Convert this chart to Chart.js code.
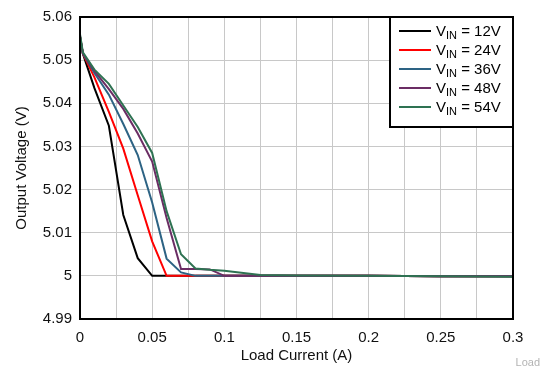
<!DOCTYPE html>
<html>
<head>
    <title>Output Voltage vs Load Current</title>
    <script src="https://cdn.jsdelivr.net/npm/chart.js"></script>
    <style>
        body { margin: 0; background: #fff; }
    </style>
</head>
<body>

    <canvas id="grafico" width="541" height="368"></canvas>

    <script>
        // Datos
        const loadCurrent = [0, 0.002, 0.01, 0.02, 0.03, 0.04, 0.05, 0.06, 0.07, 0.08, 0.09, 0.1, 0.125, 0.15, 0.2, 0.25, 0.3];
        const vin = [12, 24, 36, 48, 54];
        const out12 = [5.0555, 5.0515, 5.0435, 5.0348, 5.0141, 5.0041, 5.0, 5.0, 5.0, 5.0, 5.0, 5.0, 5.0, 5.0, 5.0, 4.9999, 4.9999];
        const out24 = [5.0555, 5.0515, 5.046, 5.038, 5.0295, 5.0187, 5.008, 5.0, 5.0, 5.0, 5.0, 5.0, 5.0, 5.0, 5.0, 4.9999, 4.9999];
        const out36 = [5.0555, 5.0515, 5.047, 5.042, 5.0352, 5.028, 5.017, 5.004, 5.0008, 5.0, 5.0, 5.0, 5.0, 5.0, 5.0, 4.9999, 4.9999];
        const out48 = [5.0555, 5.0515, 5.0475, 5.0433, 5.0387, 5.033, 5.0265, 5.0134, 5.0016, 5.0016, 5.0015, 5.0, 5.0, 5.0, 5.0, 4.9999, 4.9999];
        const out54 = [5.056, 5.0518, 5.0478, 5.0445, 5.0395, 5.0345, 5.0285, 5.015, 5.005, 5.0017, 5.0014, 5.0012, 5.0002, 5.0001, 5.0, 4.9999, 4.9998];
        const colores = ['#000000', '#ff0000', '#2d6384', '#6b2d64', '#2e7252'];

        const series = [out12, out24, out36, out48, out54];
        const fuente = '"Liberation Sans", Arial, Helvetica, sans-serif';

        const datasets = series.map((vals, i) => ({
            label: 'VIN = ' + vin[i] + 'V',
            data: loadCurrent.map((x, j) => ({ x: x, y: vals[j] })),
            borderColor: colores[i],
            backgroundColor: colores[i],
            borderWidth: 2,
            pointRadius: 0,
            tension: 0,
            order: 4 - i
        }));

        // Marco, leyenda con subindice y marca de agua
        const extras = {
            id: 'extras',
            afterDatasetsDraw(chart) {
                const ctx = chart.ctx;
                const a = chart.chartArea;
                ctx.save();
                ctx.strokeStyle = '#000';
                ctx.lineWidth = 2;
                ctx.strokeRect(a.left, a.top, a.right - a.left, a.bottom - a.top);

                // leyenda
                const bx = 390, by = a.top, bw = a.right - bx, bh = 110;
                ctx.fillStyle = '#fff';
                ctx.fillRect(bx, by, bw, bh);
                ctx.strokeRect(bx, by, bw, bh);
                ctx.textBaseline = 'alphabetic';
                vin.forEach((v, i) => {
                    const y = 31 + i * 19;
                    ctx.strokeStyle = colores[i];
                    ctx.lineWidth = 2;
                    ctx.beginPath();
                    ctx.moveTo(399, y);
                    ctx.lineTo(431, y);
                    ctx.stroke();
                    ctx.fillStyle = '#000';
                    let x = 436;
                    ctx.font = '15px ' + fuente;
                    ctx.fillText('V', x, y + 5);
                    x += ctx.measureText('V').width;
                    ctx.font = '11px ' + fuente;
                    ctx.fillText('IN', x, y + 8);
                    x += ctx.measureText('IN').width;
                    ctx.font = '15px ' + fuente;
                    ctx.fillText(' = ' + v + 'V', x, y + 5);
                });

                ctx.font = '11px ' + fuente;
                ctx.fillStyle = '#b4b4b4';
                ctx.textAlign = 'right';
                ctx.fillText('Load', 540, 366);
                ctx.restore();
            }
        };

        const configuracion = {
            type: 'line',
            data: { datasets: datasets },
            options: {
                responsive: false,
                animation: false,
                layout: { padding: { top: 12, right: 28, left: 0, bottom: 0 } },
                plugins: {
                    legend: { display: false },
                    tooltip: { enabled: false }
                },
                scales: {
                    x: {
                        type: 'linear',
                        min: 0,
                        max: 0.3,
                        afterFit: (s) => { s.height = 49; },
                        border: { display: false },
                        grid: { color: '#c8c8c8', lineWidth: 1, drawTicks: false },
                        ticks: {
                            stepSize: 0.025,
                            autoSkip: false,
                            maxRotation: 0,
                            padding: 10,
                            color: '#111',
                            font: { family: fuente, size: 15 },
                            callback: (v) => Math.round(v * 1000) % 50 === 0 ? String(parseFloat(v.toFixed(3))) : ''
                        },
                        title: {
                            display: true,
                            text: 'Load Current (A)',
                            color: '#111',
                            font: { family: fuente, size: 15 },
                            padding: { top: 0, bottom: 3 }
                        }
                    },
                    y: {
                        min: 4.99,
                        max: 5.06,
                        afterFit: (s) => { s.width = 80; },
                        border: { display: false },
                        grid: { color: '#c8c8c8', lineWidth: 1, drawTicks: false },
                        ticks: {
                            stepSize: 0.01,
                            autoSkip: false,
                            padding: 8,
                            color: '#111',
                            font: { family: fuente, size: 15 },
                            callback: (v) => String(parseFloat(v.toFixed(2)))
                        },
                        title: {
                            display: true,
                            text: 'Output Voltage (V)',
                            color: '#111',
                            font: { family: fuente, size: 15 },
                            padding: { top: 13, bottom: 0 }
                        }
                    }
                }
            },
            plugins: [extras]
        };

        var ctx = document.getElementById('grafico').getContext('2d');
        var grafico = new Chart(ctx, configuracion);
    </script>
</body>
</html>
